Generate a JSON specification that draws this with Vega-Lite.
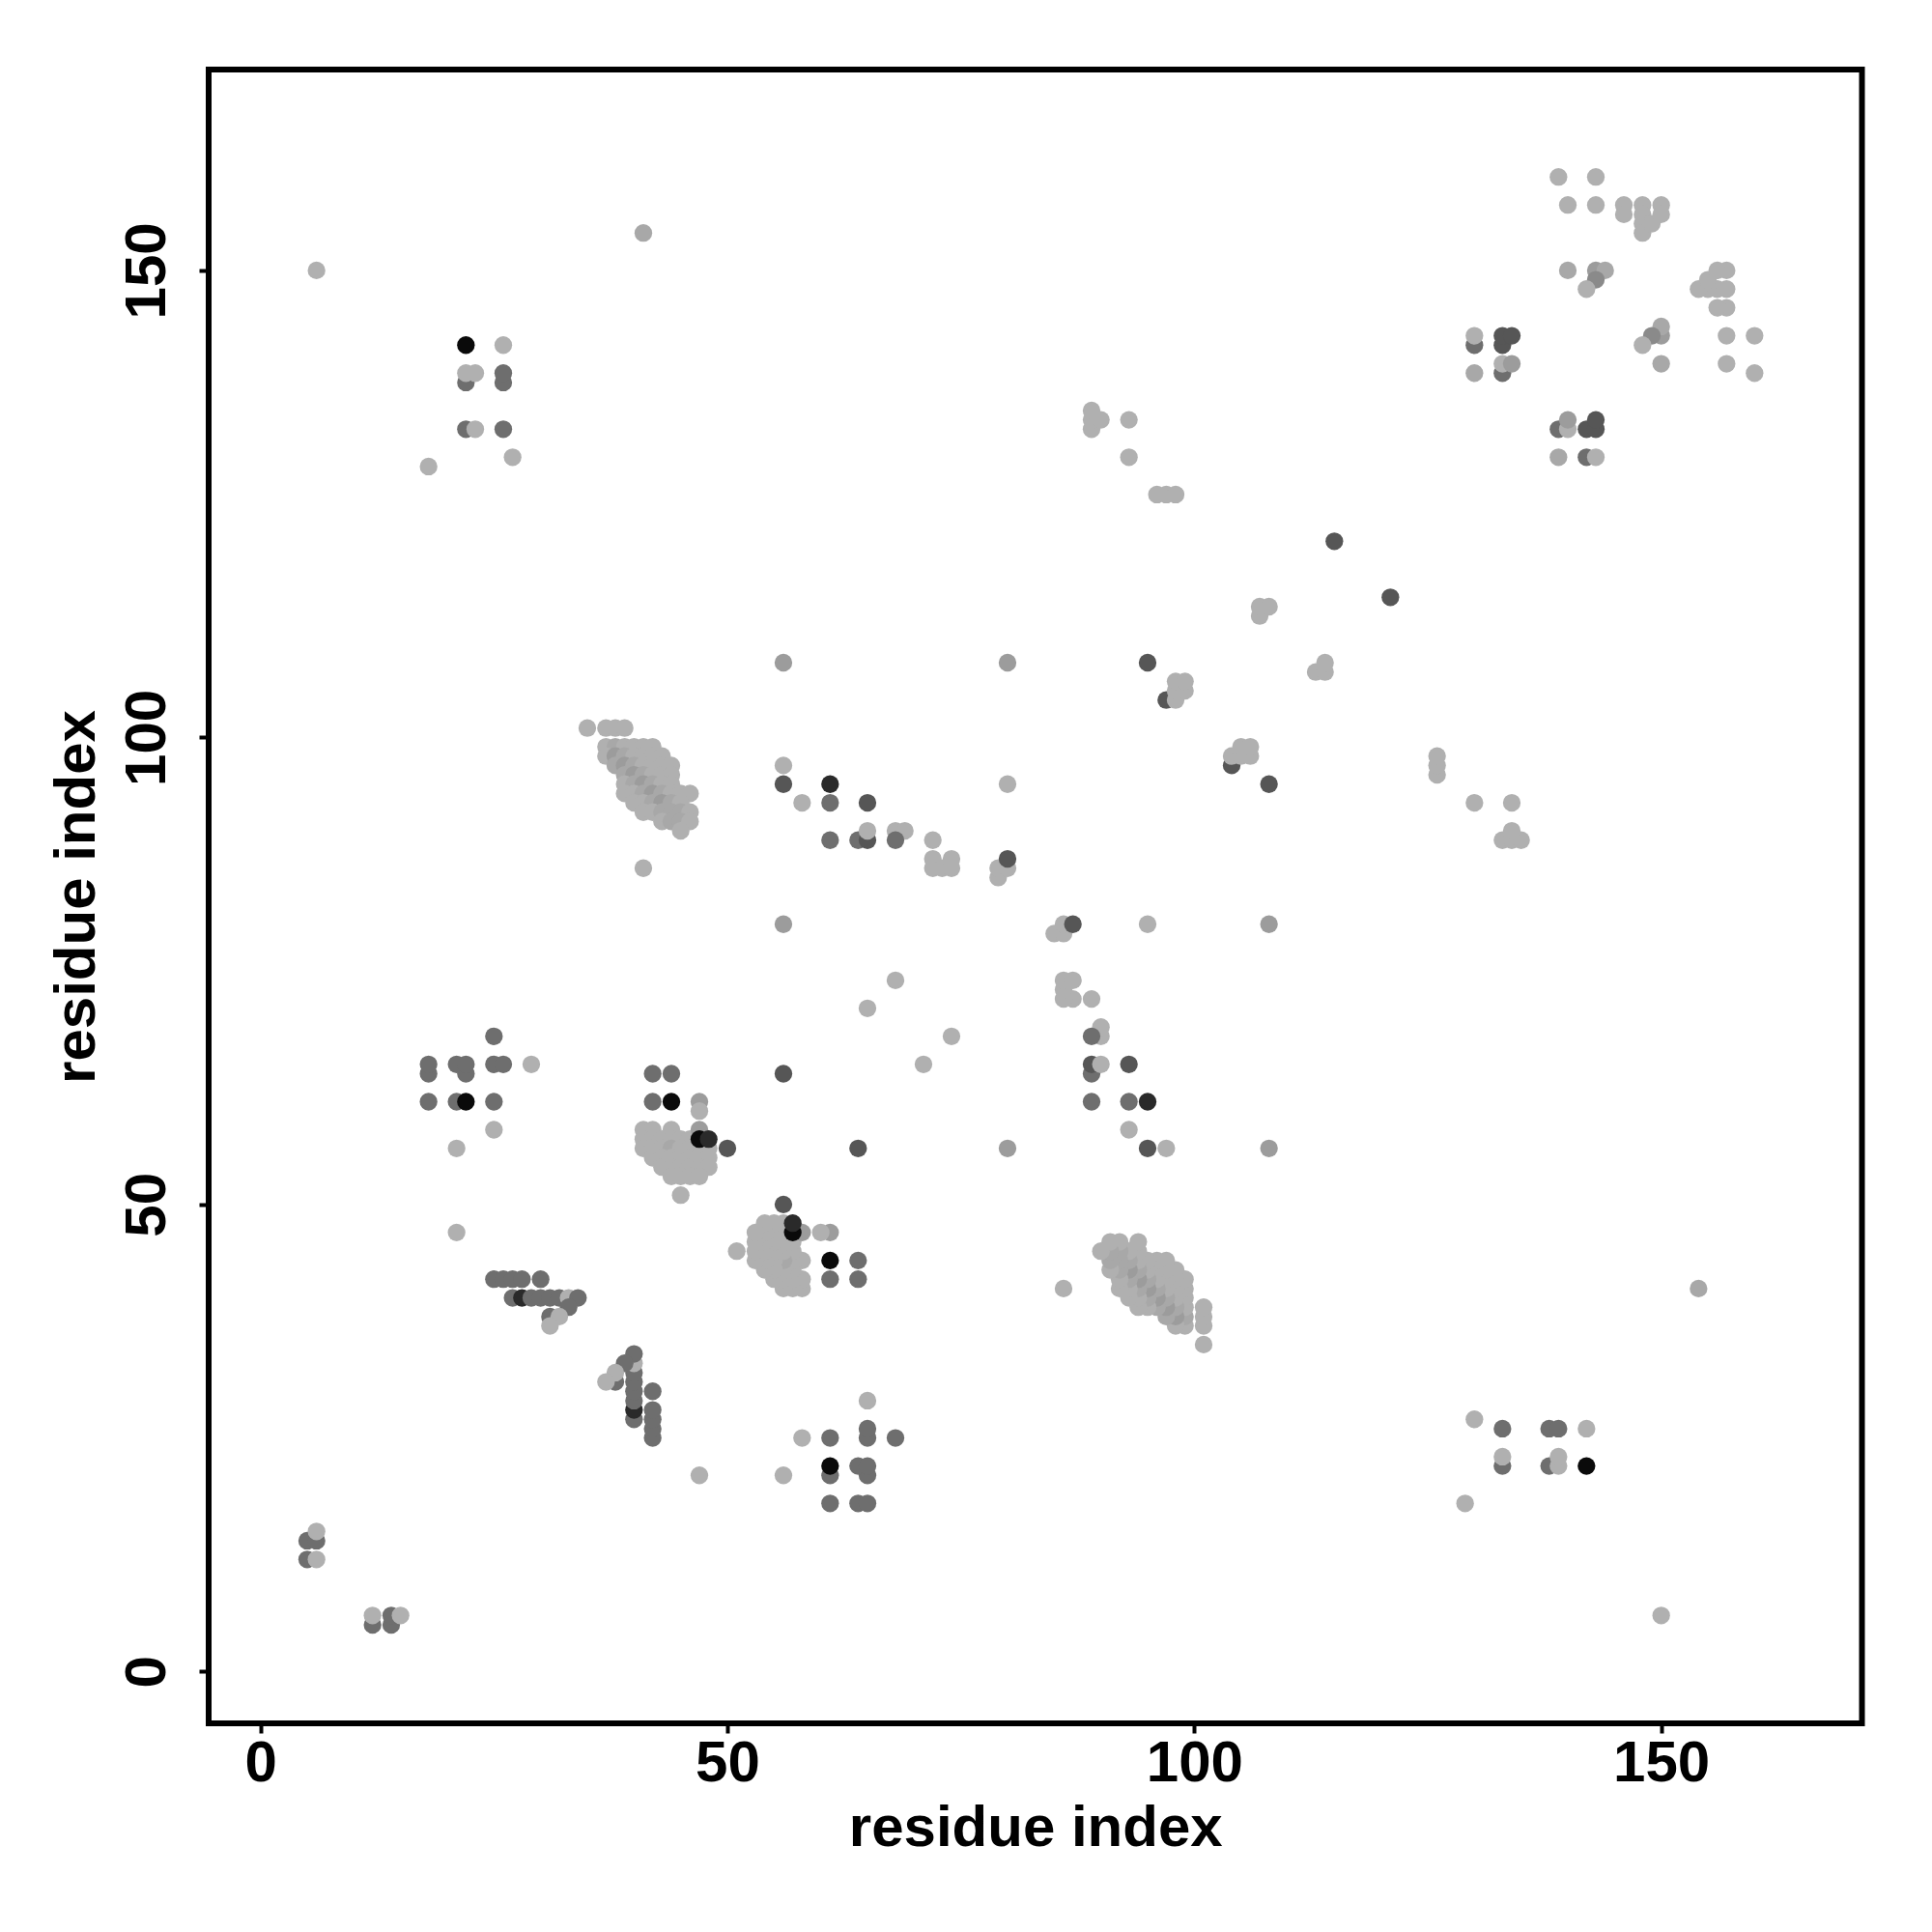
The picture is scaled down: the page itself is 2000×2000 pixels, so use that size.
{"$schema":"https://vega.github.io/schema/vega-lite/v6.json","width":1711.5,"height":1712,"autosize":{"type":"none"},"padding":{"left":216,"top":72,"right":72,"bottom":216},"background":"white","config":{"view":{"stroke":"black","strokeWidth":6},"font":"Liberation Sans"},"data":{"values":[
{"x":5,"y":12,"level":5},{"x":6,"y":12,"level":1},{"x":5,"y":14,"level":5},{"x":6,"y":14,"level":5},{"x":6,"y":15,"level":1},{"x":6,"y":150,"level":1},
{"x":18,"y":61,"level":5},{"x":18,"y":64,"level":5},{"x":18,"y":65,"level":5},{"x":21,"y":61,"level":5},{"x":21,"y":65,"level":5},{"x":21,"y":56,"level":1},{"x":21,"y":47,"level":1},{"x":22,"y":61,"level":8},{"x":22,"y":64,"level":5},{"x":22,"y":65,"level":5},{"x":25,"y":61,"level":5},{"x":25,"y":65,"level":5},{"x":25,"y":68,"level":5},{"x":25,"y":58,"level":1},{"x":26,"y":65,"level":5},{"x":29,"y":65,"level":1},{"x":18,"y":129,"level":1},
{"x":22,"y":133,"level":5},{"x":23,"y":133,"level":1},{"x":26,"y":133,"level":5},{"x":22,"y":138,"level":5},{"x":22,"y":139,"level":1},{"x":23,"y":139,"level":1},{"x":26,"y":138,"level":5},{"x":26,"y":139,"level":5},{"x":22,"y":142,"level":8},{"x":26,"y":142,"level":1},{"x":27,"y":130,"level":1},
{"x":25,"y":42,"level":5},{"x":26,"y":42,"level":5},{"x":27,"y":42,"level":5},{"x":28,"y":42,"level":5},{"x":30,"y":42,"level":5},{"x":27,"y":40,"level":5},{"x":28,"y":40,"level":7},{"x":29,"y":40,"level":5},{"x":30,"y":40,"level":5},{"x":31,"y":40,"level":5},{"x":32,"y":40,"level":5},{"x":33,"y":40,"level":1},{"x":34,"y":40,"level":5},{"x":33,"y":39,"level":5},{"x":31,"y":38,"level":5},{"x":32,"y":38,"level":1},{"x":31,"y":37,"level":1},
{"x":41,"y":154,"level":2},{"x":41,"y":86,"level":1},
{"x":35,"y":101,"level":1},{"x":37,"y":101,"level":1},{"x":38,"y":101,"level":1},{"x":39,"y":101,"level":1},
{"x":37,"y":99,"level":1},{"x":38,"y":99,"level":2},{"x":39,"y":99,"level":1},{"x":40,"y":99,"level":1},{"x":41,"y":99,"level":1},{"x":42,"y":99,"level":1},
{"x":37,"y":98,"level":1},{"x":38,"y":98,"level":3},{"x":39,"y":98,"level":2},{"x":40,"y":98,"level":1},{"x":41,"y":98,"level":1},{"x":42,"y":98,"level":1},{"x":43,"y":98,"level":1},
{"x":38,"y":97,"level":2},{"x":39,"y":97,"level":3},{"x":40,"y":97,"level":2},{"x":41,"y":97,"level":1},{"x":42,"y":97,"level":1},{"x":43,"y":97,"level":1},{"x":44,"y":97,"level":1},
{"x":39,"y":96,"level":2},{"x":40,"y":96,"level":3},{"x":41,"y":96,"level":2},{"x":42,"y":96,"level":1},{"x":43,"y":96,"level":1},{"x":44,"y":96,"level":1},
{"x":39,"y":95,"level":1},{"x":40,"y":95,"level":2},{"x":41,"y":95,"level":3},{"x":42,"y":95,"level":2},{"x":43,"y":95,"level":1},{"x":44,"y":95,"level":1},
{"x":39,"y":94,"level":1},{"x":40,"y":94,"level":1},{"x":41,"y":94,"level":2},{"x":42,"y":94,"level":3},{"x":43,"y":94,"level":2},{"x":44,"y":94,"level":1},{"x":45,"y":94,"level":1},{"x":46,"y":94,"level":1},
{"x":40,"y":93,"level":1},{"x":41,"y":93,"level":1},{"x":42,"y":93,"level":2},{"x":43,"y":93,"level":3},{"x":44,"y":93,"level":2},{"x":45,"y":93,"level":1},
{"x":41,"y":92,"level":1},{"x":42,"y":92,"level":1},{"x":43,"y":92,"level":2},{"x":44,"y":92,"level":2},{"x":45,"y":92,"level":2},{"x":46,"y":92,"level":1},
{"x":43,"y":91,"level":1},{"x":44,"y":91,"level":2},{"x":45,"y":91,"level":2},{"x":46,"y":91,"level":1},{"x":45,"y":90,"level":1},
{"x":41,"y":58,"level":1},{"x":42,"y":58,"level":1},{"x":44,"y":58,"level":1},
{"x":41,"y":57,"level":1},{"x":42,"y":57,"level":1},{"x":43,"y":57,"level":1},{"x":44,"y":57,"level":1},{"x":45,"y":57,"level":1},{"x":46,"y":57,"level":1},
{"x":41,"y":56,"level":1},{"x":42,"y":56,"level":1},{"x":43,"y":56,"level":1},{"x":44,"y":56,"level":2},{"x":45,"y":56,"level":1},{"x":46,"y":56,"level":1},{"x":47,"y":56,"level":1},{"x":48,"y":56,"level":1},
{"x":42,"y":55,"level":1},{"x":43,"y":55,"level":1},{"x":44,"y":55,"level":1},{"x":45,"y":55,"level":1},{"x":46,"y":55,"level":1},{"x":47,"y":55,"level":1},{"x":48,"y":55,"level":1},
{"x":43,"y":54,"level":1},{"x":44,"y":54,"level":1},{"x":45,"y":54,"level":1},{"x":46,"y":54,"level":1},{"x":47,"y":54,"level":1},{"x":48,"y":54,"level":1},
{"x":44,"y":53,"level":1},{"x":45,"y":53,"level":1},{"x":46,"y":53,"level":1},{"x":47,"y":53,"level":1},{"x":45,"y":51,"level":1},
{"x":42,"y":64,"level":5},{"x":44,"y":64,"level":5},{"x":42,"y":61,"level":5},{"x":44,"y":61,"level":8},{"x":47,"y":61,"level":3},{"x":47,"y":60,"level":1},{"x":47,"y":58,"level":3},{"x":47,"y":57,"level":8},{"x":48,"y":57,"level":7},{"x":50,"y":56,"level":6},{"x":56,"y":64,"level":6},
{"x":56,"y":108,"level":3},{"x":56,"y":97,"level":1},{"x":56,"y":95,"level":6},{"x":58,"y":93,"level":1},{"x":61,"y":95,"level":7},{"x":61,"y":93,"level":5},{"x":65,"y":93,"level":6},{"x":61,"y":89,"level":5},{"x":64,"y":89,"level":5},{"x":65,"y":89,"level":6},{"x":65,"y":90,"level":1},{"x":68,"y":90,"level":1},{"x":69,"y":90,"level":1},{"x":68,"y":89,"level":5},{"x":72,"y":89,"level":1},{"x":72,"y":87,"level":1},{"x":72,"y":86,"level":1},{"x":73,"y":86,"level":1},{"x":74,"y":86,"level":1},{"x":74,"y":87,"level":1},{"x":56,"y":80,"level":3},{"x":80,"y":108,"level":3},{"x":80,"y":95,"level":1},{"x":79,"y":85,"level":1},{"x":79,"y":86,"level":1},{"x":80,"y":86,"level":1},{"x":80,"y":87,"level":6},{"x":65,"y":71,"level":1},{"x":68,"y":74,"level":1},
{"x":89,"y":133,"level":1},{"x":89,"y":134,"level":1},{"x":89,"y":135,"level":1},{"x":90,"y":134,"level":1},{"x":93,"y":134,"level":1},{"x":93,"y":130,"level":1},{"x":96,"y":126,"level":1},{"x":97,"y":126,"level":1},{"x":98,"y":126,"level":1},
{"x":95,"y":108,"level":6},{"x":97,"y":104,"level":6},{"x":98,"y":104,"level":1},{"x":98,"y":105,"level":1},{"x":99,"y":105,"level":1},{"x":98,"y":106,"level":1},{"x":99,"y":106,"level":1},{"x":107,"y":113,"level":1},{"x":107,"y":114,"level":1},{"x":108,"y":114,"level":1},{"x":115,"y":121,"level":6},
{"x":139,"y":160,"level":1},{"x":143,"y":160,"level":1},{"x":140,"y":157,"level":1},{"x":143,"y":157,"level":1},{"x":146,"y":157,"level":1},{"x":146,"y":156,"level":1},{"x":148,"y":157,"level":1},{"x":148,"y":156,"level":1},{"x":148,"y":155,"level":1},{"x":148,"y":154,"level":1},{"x":149,"y":155,"level":1},{"x":150,"y":157,"level":1},{"x":150,"y":156,"level":1},
{"x":140,"y":150,"level":2},{"x":143,"y":150,"level":3},{"x":144,"y":150,"level":2},{"x":143,"y":149,"level":4},{"x":142,"y":148,"level":1},
{"x":130,"y":139,"level":2},{"x":130,"y":142,"level":5},{"x":130,"y":143,"level":1},{"x":133,"y":139,"level":5},{"x":133,"y":140,"level":1},{"x":134,"y":140,"level":3},{"x":133,"y":142,"level":6},{"x":133,"y":143,"level":6},{"x":134,"y":143,"level":6},
{"y":5,"x":12,"level":5},{"y":6,"x":12,"level":1},{"y":5,"x":14,"level":5},{"y":6,"x":14,"level":5},{"y":6,"x":15,"level":1},{"y":6,"x":150,"level":1},
{"y":18,"x":61,"level":5},{"y":18,"x":64,"level":5},{"y":18,"x":65,"level":5},{"y":21,"x":61,"level":5},{"y":21,"x":65,"level":5},{"y":21,"x":56,"level":1},{"y":21,"x":47,"level":1},{"y":22,"x":61,"level":8},{"y":22,"x":64,"level":5},{"y":22,"x":65,"level":5},{"y":25,"x":61,"level":5},{"y":25,"x":65,"level":5},{"y":25,"x":68,"level":5},{"y":25,"x":58,"level":1},{"y":26,"x":65,"level":5},{"y":29,"x":65,"level":1},{"y":18,"x":129,"level":1},
{"y":22,"x":133,"level":5},{"y":23,"x":133,"level":1},{"y":26,"x":133,"level":5},{"y":22,"x":138,"level":5},{"y":22,"x":139,"level":1},{"y":23,"x":139,"level":1},{"y":26,"x":138,"level":5},{"y":26,"x":139,"level":5},{"y":22,"x":142,"level":8},{"y":26,"x":142,"level":1},{"y":27,"x":130,"level":1},
{"y":25,"x":42,"level":5},{"y":26,"x":42,"level":5},{"y":27,"x":42,"level":5},{"y":28,"x":42,"level":5},{"y":30,"x":42,"level":5},{"y":27,"x":40,"level":5},{"y":28,"x":40,"level":7},{"y":29,"x":40,"level":5},{"y":30,"x":40,"level":5},{"y":31,"x":40,"level":5},{"y":32,"x":40,"level":5},{"y":33,"x":40,"level":1},{"y":34,"x":40,"level":5},{"y":33,"x":39,"level":5},{"y":31,"x":38,"level":5},{"y":32,"x":38,"level":1},{"y":31,"x":37,"level":1},
{"y":41,"x":154,"level":2},{"y":41,"x":86,"level":1},
{"y":35,"x":101,"level":1},{"y":37,"x":101,"level":1},{"y":38,"x":101,"level":1},{"y":39,"x":101,"level":1},
{"y":37,"x":99,"level":1},{"y":38,"x":99,"level":2},{"y":39,"x":99,"level":1},{"y":40,"x":99,"level":1},{"y":41,"x":99,"level":1},{"y":42,"x":99,"level":1},
{"y":37,"x":98,"level":1},{"y":38,"x":98,"level":3},{"y":39,"x":98,"level":2},{"y":40,"x":98,"level":1},{"y":41,"x":98,"level":1},{"y":42,"x":98,"level":1},{"y":43,"x":98,"level":1},
{"y":38,"x":97,"level":2},{"y":39,"x":97,"level":3},{"y":40,"x":97,"level":2},{"y":41,"x":97,"level":1},{"y":42,"x":97,"level":1},{"y":43,"x":97,"level":1},{"y":44,"x":97,"level":1},
{"y":39,"x":96,"level":2},{"y":40,"x":96,"level":3},{"y":41,"x":96,"level":2},{"y":42,"x":96,"level":1},{"y":43,"x":96,"level":1},{"y":44,"x":96,"level":1},
{"y":39,"x":95,"level":1},{"y":40,"x":95,"level":2},{"y":41,"x":95,"level":3},{"y":42,"x":95,"level":2},{"y":43,"x":95,"level":1},{"y":44,"x":95,"level":1},
{"y":39,"x":94,"level":1},{"y":40,"x":94,"level":1},{"y":41,"x":94,"level":2},{"y":42,"x":94,"level":3},{"y":43,"x":94,"level":2},{"y":44,"x":94,"level":1},{"y":45,"x":94,"level":1},{"y":46,"x":94,"level":1},
{"y":40,"x":93,"level":1},{"y":41,"x":93,"level":1},{"y":42,"x":93,"level":2},{"y":43,"x":93,"level":3},{"y":44,"x":93,"level":2},{"y":45,"x":93,"level":1},
{"y":41,"x":92,"level":1},{"y":42,"x":92,"level":1},{"y":43,"x":92,"level":2},{"y":44,"x":92,"level":2},{"y":45,"x":92,"level":2},{"y":46,"x":92,"level":1},
{"y":43,"x":91,"level":1},{"y":44,"x":91,"level":2},{"y":45,"x":91,"level":2},{"y":46,"x":91,"level":1},{"y":45,"x":90,"level":1},
{"y":41,"x":58,"level":1},{"y":42,"x":58,"level":1},{"y":44,"x":58,"level":1},
{"y":41,"x":57,"level":1},{"y":42,"x":57,"level":1},{"y":43,"x":57,"level":1},{"y":44,"x":57,"level":1},{"y":45,"x":57,"level":1},{"y":46,"x":57,"level":1},
{"y":41,"x":56,"level":1},{"y":42,"x":56,"level":1},{"y":43,"x":56,"level":1},{"y":44,"x":56,"level":2},{"y":45,"x":56,"level":1},{"y":46,"x":56,"level":1},{"y":47,"x":56,"level":1},{"y":48,"x":56,"level":1},
{"y":42,"x":55,"level":1},{"y":43,"x":55,"level":1},{"y":44,"x":55,"level":1},{"y":45,"x":55,"level":1},{"y":46,"x":55,"level":1},{"y":47,"x":55,"level":1},{"y":48,"x":55,"level":1},
{"y":43,"x":54,"level":1},{"y":44,"x":54,"level":1},{"y":45,"x":54,"level":1},{"y":46,"x":54,"level":1},{"y":47,"x":54,"level":1},{"y":48,"x":54,"level":1},
{"y":44,"x":53,"level":1},{"y":45,"x":53,"level":1},{"y":46,"x":53,"level":1},{"y":47,"x":53,"level":1},{"y":45,"x":51,"level":1},
{"y":42,"x":64,"level":5},{"y":44,"x":64,"level":5},{"y":42,"x":61,"level":5},{"y":44,"x":61,"level":8},{"y":47,"x":61,"level":3},{"y":47,"x":60,"level":1},{"y":47,"x":58,"level":3},{"y":47,"x":57,"level":8},{"y":48,"x":57,"level":7},{"y":50,"x":56,"level":6},{"y":56,"x":64,"level":6},
{"y":56,"x":108,"level":3},{"y":56,"x":97,"level":1},{"y":56,"x":95,"level":6},{"y":58,"x":93,"level":1},{"y":61,"x":95,"level":7},{"y":61,"x":93,"level":5},{"y":65,"x":93,"level":6},{"y":61,"x":89,"level":5},{"y":64,"x":89,"level":5},{"y":65,"x":89,"level":6},{"y":65,"x":90,"level":1},{"y":68,"x":90,"level":1},{"y":69,"x":90,"level":1},{"y":68,"x":89,"level":5},{"y":72,"x":89,"level":1},{"y":72,"x":87,"level":1},{"y":72,"x":86,"level":1},{"y":73,"x":86,"level":1},{"y":74,"x":86,"level":1},{"y":74,"x":87,"level":1},{"y":56,"x":80,"level":3},{"y":80,"x":108,"level":3},{"y":80,"x":95,"level":1},{"y":79,"x":85,"level":1},{"y":79,"x":86,"level":1},{"y":80,"x":86,"level":1},{"y":80,"x":87,"level":6},{"y":65,"x":71,"level":1},{"y":68,"x":74,"level":1},
{"y":89,"x":133,"level":1},{"y":89,"x":134,"level":1},{"y":89,"x":135,"level":1},{"y":90,"x":134,"level":1},{"y":93,"x":134,"level":1},{"y":93,"x":130,"level":1},{"y":96,"x":126,"level":1},{"y":97,"x":126,"level":1},{"y":98,"x":126,"level":1},
{"y":95,"x":108,"level":6},{"y":97,"x":104,"level":6},{"y":98,"x":104,"level":1},{"y":98,"x":105,"level":1},{"y":99,"x":105,"level":1},{"y":98,"x":106,"level":1},{"y":99,"x":106,"level":1},{"y":107,"x":113,"level":1},{"y":107,"x":114,"level":1},{"y":108,"x":114,"level":1},{"y":115,"x":121,"level":6},
{"y":139,"x":160,"level":1},{"y":143,"x":160,"level":1},{"y":140,"x":157,"level":1},{"y":143,"x":157,"level":1},{"y":146,"x":157,"level":1},{"y":146,"x":156,"level":1},{"y":148,"x":157,"level":1},{"y":148,"x":156,"level":1},{"y":148,"x":155,"level":1},{"y":148,"x":154,"level":1},{"y":149,"x":155,"level":1},{"y":150,"x":157,"level":1},{"y":150,"x":156,"level":1},
{"y":140,"x":150,"level":2},{"y":143,"x":150,"level":3},{"y":144,"x":150,"level":2},{"y":143,"x":149,"level":4},{"y":142,"x":148,"level":1},
{"y":130,"x":139,"level":2},{"y":130,"x":142,"level":5},{"y":130,"x":143,"level":1},{"y":133,"x":139,"level":5},{"y":133,"x":140,"level":1},{"y":134,"x":140,"level":3},{"y":133,"x":142,"level":6},{"y":133,"x":143,"level":6},{"y":134,"x":143,"level":6}
]},"mark":{"type":"point","filled":true,"opacity":1,"size":335},"encoding":{"x":{"field":"x","type":"quantitative","scale":{"domain":[-5.55,171.5],"nice":false,"zero":false},"axis":{"values":[0,50,100,150],"grid":false,"domain":false,"tickColor":"black","tickWidth":4,"tickSize":10,"labelFont":"Liberation Sans","labelFontWeight":"bold","labelFontSize":60,"labelColor":"black","labelPadding":2,"labelFlush":false,"labelOverlap":false,"title":"residue index","titleFont":"Liberation Sans","titleFontWeight":"bold","titleFontSize":60,"titleColor":"black","titlePadding":8}},"y":{"field":"y","type":"quantitative","scale":{"domain":[-5.55,171.5],"nice":false,"zero":false},"axis":{"values":[0,50,100,150],"grid":false,"domain":false,"tickColor":"black","tickWidth":4,"tickSize":10,"labelFont":"Liberation Sans","labelFontWeight":"bold","labelFontSize":60,"labelColor":"black","labelAngle":-90,"labelAlign":"center","labelBaseline":"bottom","labelPadding":23,"labelFlush":false,"labelOverlap":false,"title":"residue index","titleFont":"Liberation Sans","titleFontWeight":"bold","titleFontSize":60,"titleColor":"black","titlePadding":12}},"color":{"field":"level","type":"ordinal","legend":null,"scale":{"domain":[1,2,3,4,5,6,7,8],"range":["#b0b0b0","#a8a8a8","#9c9c9c","#8a8a8a","#6e6e6e","#565656","#2a2a2a","#0a0a0a"]}},"order":[{"field":"x","type":"quantitative"},{"field":"y","type":"quantitative"}]}}
